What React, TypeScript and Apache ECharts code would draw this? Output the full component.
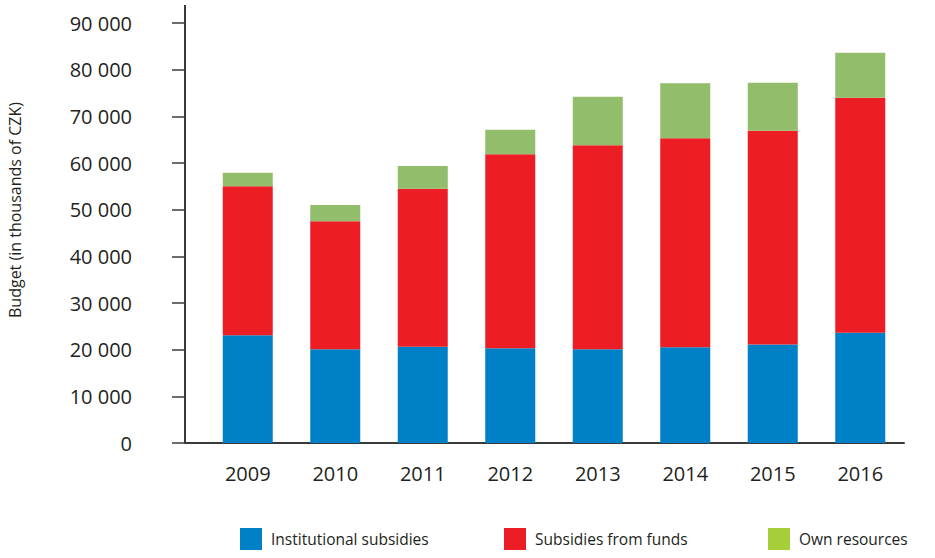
import React, { useEffect, useRef } from "react";
import * as echarts from "echarts";

const years = ["2009", "2010", "2011", "2012", "2013", "2014", "2015", "2016"];
const institutional = [23100, 20100, 20600, 20300, 20100, 20500, 21100, 23600];
const funds = [31900, 27400, 33900, 41600, 43700, 44800, 45800, 50400];
const own = [2900, 3500, 4850, 5200, 10400, 11800, 10300, 9600];
const seriesNames = ["Institutional subsidies", "Subsidies from funds", "Own resources"];
const barColors = ["#0080C6", "#ED1D25", "#92BD6A"];
const legendColors = ["#0080C6", "#ED1D25", "#A6CE39"];
const legendLefts = [240, 504, 768];

const FONT = "'Open Sans', sans-serif";
const TEXT = "#231F20";
const AXIS = "#3A3A3A";

export default function App() {
  const ref = useRef<HTMLDivElement>(null);
  useEffect(() => {
    if (!ref.current) return;
    const chart = echarts.init(ref.current, null, { renderer: "svg" });
    const data = [institutional, funds, own];
    chart.setOption({
      animation: false,
      textStyle: { fontFamily: FONT },
      grid: { left: 204, right: 31, top: 23, bottom: 115 },
      legend: seriesNames.map((n, i) => ({
        data: [{ name: n, itemStyle: { color: legendColors[i] } }],
        left: legendLefts[i],
        top: 528,
        padding: 0,
        icon: "rect",
        itemWidth: 22,
        itemHeight: 22,
        selectedMode: false,
        textStyle: { fontFamily: FONT, fontSize: 15.5, color: TEXT, padding: [8, 0, 0, 4] },
      })),
      xAxis: {
        type: "category",
        data: years,
        axisLine: { lineStyle: { color: AXIS, width: 2 } },
        axisTick: { show: false },
        axisLabel: { fontFamily: FONT, fontSize: 20, color: TEXT, margin: 20 },
      },
      yAxis: {
        type: "value",
        min: 0,
        max: 90000,
        interval: 10000,
        offset: 19,
        splitLine: { show: false },
        axisLine: { show: true, lineStyle: { color: AXIS, width: 2 } },
        axisTick: { show: true, length: 13, lineStyle: { color: AXIS, width: 1.5 } },
        axisLabel: {
          fontFamily: FONT,
          fontSize: 20,
          color: TEXT,
          margin: 53,
          formatter: (v: number) => String(v).replace(/\B(?=(\d{3})+(?!\d))/g, " "),
        },
      },
      graphic: [
        { type: "line", shape: { x1: 185, y1: 443, x2: 205, y2: 443 }, style: { stroke: AXIS, lineWidth: 2 } },
        { type: "line", shape: { x1: 185, y1: 5, x2: 185, y2: 24 }, style: { stroke: AXIS, lineWidth: 2 } },
        {
          type: "text",
          x: 15,
          y: 210,
          rotation: Math.PI / 2,
          style: {
            text: "Budget (in thousands of CZK)",
            fontFamily: FONT,
            fontSize: 16,
            fill: TEXT,
            align: "center",
            verticalAlign: "middle",
          },
        },
      ],
      series: seriesNames.map((n, i) => ({
        name: n,
        type: "bar",
        stack: "total",
        barWidth: 50,
        data: data[i],
        itemStyle: { color: barColors[i] },
      })),
    });
    return () => chart.dispose();
  }, []);
  return <div ref={ref} style={{ width: 935, height: 558, position: "absolute", left: 0, top: 0 }} />;
}
